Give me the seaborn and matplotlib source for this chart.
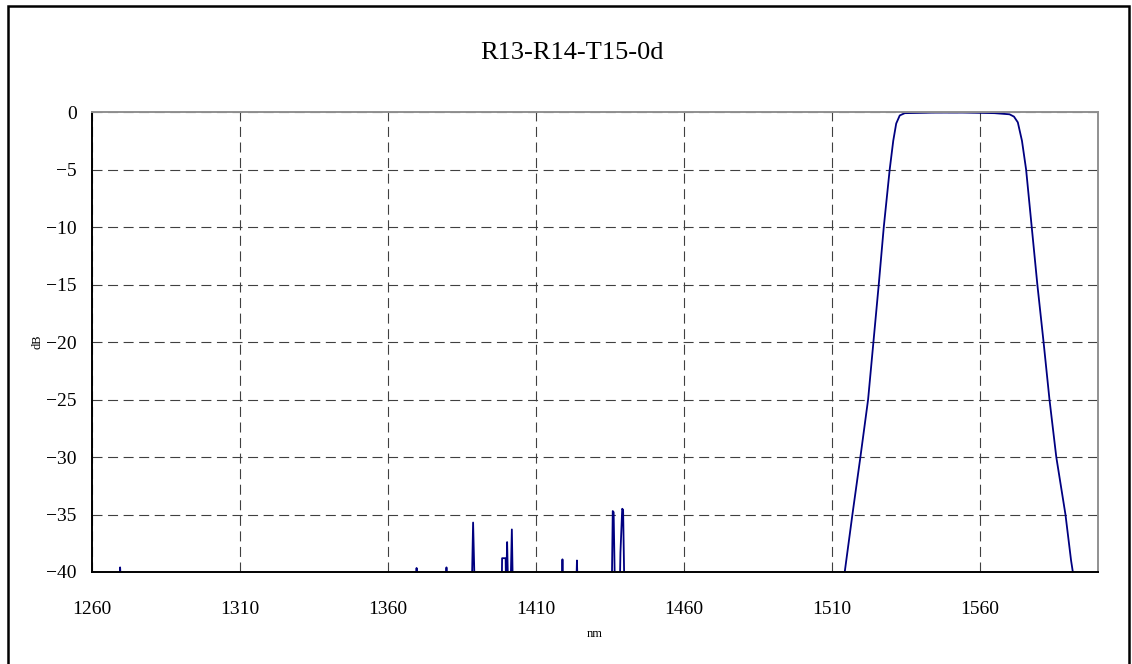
import matplotlib
matplotlib.use("Agg")
import matplotlib.pyplot as plt
import seaborn as sns
import pandas as pd
from matplotlib.patches import Rectangle

# ---- data ----
wavelength_nm = [
    1260.0, 1269.2, 1269.5, 1269.8,
    1369.4, 1369.7, 1370.0,
    1379.5, 1379.8, 1380.1,
    1388.4, 1388.8, 1389.3,
    1398.5, 1398.6, 1399.8, 1399.9,
    1400.0, 1400.3, 1400.6,
    1401.5, 1401.9, 1402.2,
    1418.8, 1419.0, 1419.2,
    1423.7, 1423.9, 1424.1,
    1435.7, 1436.0, 1436.3, 1436.7,
    1438.4, 1438.6, 1439.2, 1439.5, 1439.9,
    1514.0, 1514.4, 1517.0, 1519.7, 1522.3, 1524.1, 1525.9, 1527.6,
    1529.6, 1530.8, 1531.8, 1533.0, 1534.7, 1545.0, 1555.0, 1565.0,
    1570.1, 1571.6, 1572.9, 1574.3, 1575.7, 1577.6, 1579.5, 1581.6,
    1583.6, 1585.9, 1589.0, 1590.9, 1591.5, 1591.9, 1600.0,
]
loss_db = [
    -41.0, -41.0, -39.6, -41.0,
    -41.0, -39.65, -41.0,
    -41.0, -39.6, -41.0,
    -41.0, -35.7, -41.0,
    -41.0, -38.8, -38.8, -41.0,
    -41.0, -37.4, -41.0,
    -41.0, -36.3, -41.0,
    -41.0, -38.9, -41.0,
    -41.0, -39.0, -41.0,
    -41.0, -34.7, -34.8, -41.0,
    -41.0, -38.3, -34.5, -34.6, -41.0,
    -41.0, -40.0, -35.0, -30.0, -25.0, -20.0, -15.0, -10.0,
    -5.0, -2.5, -1.0, -0.3, -0.1, -0.05, -0.05, -0.1,
    -0.2, -0.4, -0.9, -2.5, -5.0, -10.0, -15.0, -20.0,
    -25.0, -30.0, -35.0, -39.0, -40.0, -41.0, -41.0,
]
x_ticks = [1260, 1310, 1360, 1410, 1460, 1510, 1560]
y_ticks = [0, -5, -10, -15, -20, -25, -30, -35, -40]
title_text = "R13-R14-T15-0d"

df = pd.DataFrame({"nm": wavelength_nm, "dB": loss_db})

sns.set_style("white")
plt.rcParams["font.family"] = ["Liberation Serif", "DejaVu Serif"]
plt.rcParams["text.color"] = "black"
plt.rcParams["axes.labelcolor"] = "black"

fig = plt.figure(figsize=(11.32, 6.64), dpi=100)
ax = fig.add_axes([92 / 1132, 92 / 664, (1098 - 92) / 1132, (572 - 112) / 664])

sns.lineplot(data=df, x="nm", y="dB", ax=ax, sort=False, estimator=None,
             color="#000080", linewidth=1.3)

ax.set_xlim(1260, 1600)
ax.set_ylim(-40, 0)
ax.set_xticks(x_ticks)
ax.set_yticks(y_ticks)
ax.set_xticklabels([str(v) for v in x_ticks])
ax.set_yticklabels([("\u2212" + str(-v)) if v < 0 else str(v) for v in y_ticks])
ax.tick_params(axis="both", length=0, labelsize=14, colors="black")
ax.tick_params(axis="x", pad=21)
ax.tick_params(axis="y", pad=11)

ax.grid(True, color="#404040", linestyle=(0, (9, 5)), linewidth=0.8)
ax.set_axisbelow(True)

for side in ["left", "bottom"]:
    ax.spines[side].set_color("black")
    ax.spines[side].set_linewidth(1.4)
for side in ["top", "right"]:
    ax.spines[side].set_visible(True)
    ax.spines[side].set_color("#909090")
    ax.spines[side].set_linewidth(1.4)

ax.set_xlabel("nm", fontsize=9, labelpad=7)
ax.set_ylabel("dB", fontsize=9, labelpad=2)

fig.text(0.5 * (488 + 656) / 1132, 1 - 53 / 664, title_text, ha="center",
         va="center", fontsize=19, color="black")

# outer frame
fig.patches.append(Rectangle((8 / 1132, -0.05), (1129 - 8) / 1132, 1.05 - 6 / 664,
                             transform=fig.transFigure, fill=False,
                             edgecolor="black", linewidth=1.8))

fig.savefig("out.png", dpi=100, facecolor="white")
